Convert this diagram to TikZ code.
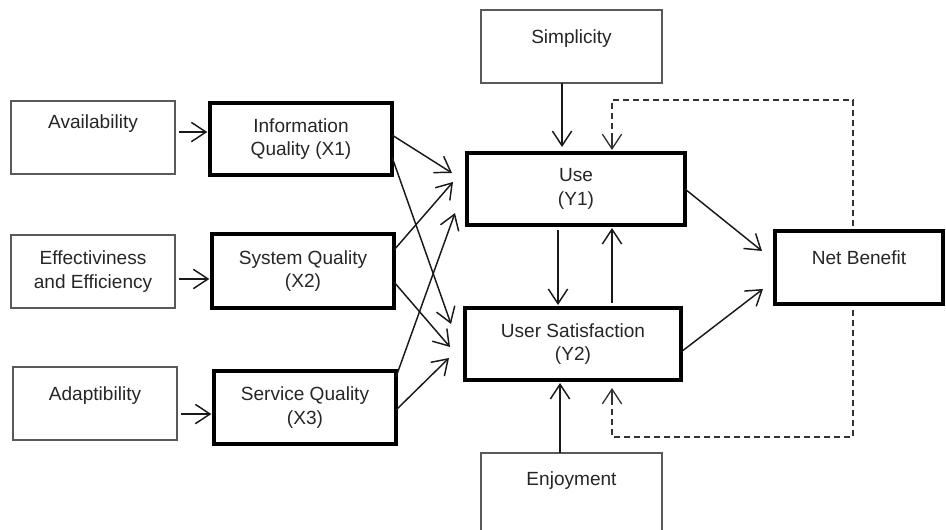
\documentclass[tikz,border=0pt]{standalone}
\usepackage{fontspec}
\setmainfont{Liberation Sans}
\usetikzlibrary{arrows.meta}

\begin{document}
\begin{tikzpicture}[x=0.75pt, y=-0.75pt,
    factor/.style={draw=black!65, line width=0.9pt, text=black!85, align=center,
      inner sep=0pt, outer sep=0pt, minimum height=54.75pt,
      font=\fontsize{14.3pt}{17.8pt}\selectfont},
    construct/.style={factor, draw=black, line width=2.6pt},
    oneline/.style={text height=10pt, text depth=#1}, oneline/.default=13.9pt,
    link/.style={-{Straight Barb[length=11pt, width=14.5pt]}, line width=1.1pt, black!90},
    feedback/.style={black!80, line width=1pt, dash pattern=on 4.5pt off 3pt},
    fbtip/.style={link, black!80, line width=1pt}]
  \useasboundingbox (0,0) rectangle (946,529);
  \clip (0,0) rectangle (946,529);

  % outer factors
  \node[factor, oneline=22.9pt, minimum width=123pt] (avail) at (93,137.5) {Availability};
  \node[factor, minimum width=123pt] (eff) at (93,271.5) {Effectiviness\\and Efficiency};
  \node[factor, oneline, minimum width=123pt] (adapt) at (95,403.5) {Adaptibility};
  \node[factor, oneline, minimum width=135.75pt] (simp) at (571.5,46.5) {Simplicity};
  \node[factor, oneline=28.2pt, minimum width=135.75pt, minimum height=67.5pt] (enjoy) at (571.5,498) {Enjoyment};

  % model constructs
  \node[construct, minimum width=136.5pt, minimum height=54pt] (iq) at (301,139) {Information\\Quality (X1)};
  \node[construct, minimum width=136.5pt, minimum height=55.5pt] (sq) at (303,271) {System Quality\\(X2)};
  \node[construct, minimum width=136.5pt] (servq) at (305,407.5) {Service Quality\\(X3)};
  \node[construct, minimum width=163.5pt, minimum height=54pt] (use) at (576,189) {Use\\(Y1)};
  \node[construct, minimum width=162pt, minimum height=54pt] (us) at (573,344) {User Satisfaction\\(Y2)};
  \node[construct, oneline, minimum width=126pt] (nb) at (859,267.5) {Net Benefit};

  % factor -> quality
  \foreach \src/\dst/\dy in {avail/iq/4.1pt, eff/sq/-5.6pt, adapt/servq/-7.9pt}
    \draw[link, shorten <=3pt, shorten >=2pt] ([yshift=\dy]\src.east) -- ([yshift=\dy]\src.east -| \dst.west);

  % quality -> use / satisfaction
  \foreach \src/\sy/\dst/\dx/\dy in {iq/3pt/use/-11.25pt/12pt, iq/-13.5pt/us/-10.5pt/15pt,
      sq/15.75pt/use/-10.5pt/5.25pt, sq/-8.25pt/us/-11.25pt/-2.25pt,
      servq/22.9pt/use/-9pt/-18pt, servq/-1.9pt/us/-12pt/-10.5pt}
    \draw[link] ([yshift=\sy]\src.east) -- ([shift={(\dx,\dy)}]\dst.west);

  \draw[link, shorten >=4.5pt] ([xshift=-7.1pt]simp.south) -- ([xshift=-7.1pt]simp.south |- use.north);
  \draw[link, shorten <=3.75pt, shorten >=2.25pt] ([xshift=-13.5pt]use.south) -- ([xshift=-13.5pt]use.south |- us.north);
  \draw[link, shorten <=3.75pt, shorten >=2.25pt] ([xshift=29.25pt]us.north) -- ([xshift=29.25pt]us.north |- use.south);
  \draw[link, shorten >=2.25pt] ([xshift=-8.6pt]enjoy.north) -- ([xshift=-8.6pt]enjoy.north |- us.south);

  \draw[link] (use.east) -- ([shift={(-9.75pt,12.4pt)}]nb.west);
  \draw[link] ([yshift=-6pt]us.east) -- ([shift={(-9pt,-16.1pt)}]nb.west);

  % feedback loops (dashed shaft, solid head)
  \draw[feedback, shorten >=13.25pt] ([shift={(-4.5pt,3.75pt)}]nb.north) |- ([shift={(27pt,39.75pt)}]use.north) -- ([xshift=27pt]use.north);
  \draw[fbtip, shorten >=2.25pt] ([shift={(27pt,13.25pt)}]use.north) -- ([xshift=27pt]use.north);
  \draw[feedback, shorten >=17pt] ([shift={(-4.5pt,-4.5pt)}]nb.south) |- ([shift={(29.25pt,-42.75pt)}]us.south) -- ([xshift=29.25pt]us.south);
  \draw[fbtip, shorten >=6pt] ([shift={(29.25pt,-17pt)}]us.south) -- ([xshift=29.25pt]us.south);
\end{tikzpicture}
\end{document}
